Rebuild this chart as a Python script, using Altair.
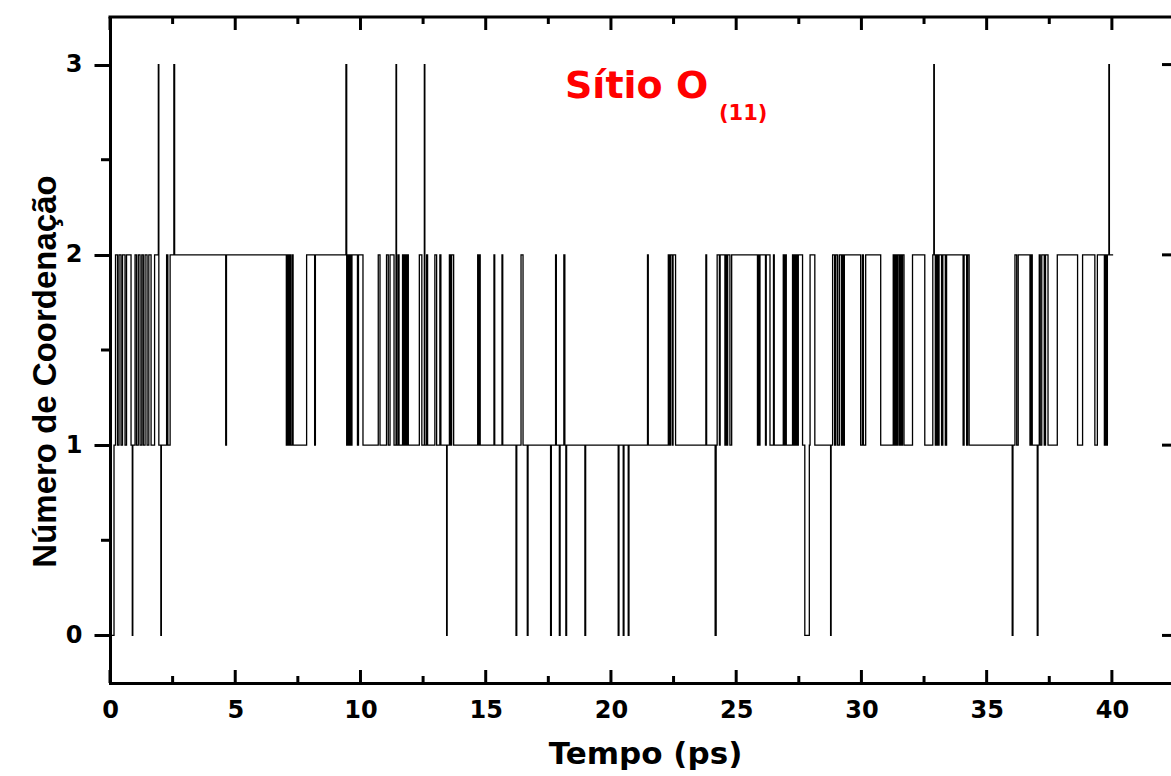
import altair as alt
import pandas as pd

# ---- data: step series (time in ps, coordination number) ----
times = [
    0.00, 0.16, 0.22, 0.30, 0.36, 0.44, 0.50, 0.60, 0.66, 0.84, 0.89, 0.91, 1.00, 1.06, 1.13, 1.20,
    1.27, 1.33, 1.40, 1.48, 1.55, 1.64, 1.78, 1.93, 1.95, 2.03, 2.05, 2.26, 2.31, 2.40, 2.55, 2.58,
    4.62, 4.65, 7.04, 7.08, 7.12, 7.17, 7.21, 7.27, 7.31, 7.85, 8.17, 8.20, 9.42, 9.45, 9.49, 9.53,
    9.57, 9.61, 9.66, 9.88, 9.92, 10.10, 10.71, 10.78, 11.04, 11.11, 11.18, 11.34, 11.42, 11.44,
    11.50, 11.54, 11.68, 11.72, 11.76, 11.81, 11.86, 11.91, 12.35, 12.45, 12.55, 12.57, 12.64,
    12.68, 12.97, 13.04, 13.17, 13.21, 13.44, 13.46, 13.55, 13.60, 13.64, 13.72, 14.68, 14.72,
    14.74, 14.78, 15.33, 15.36, 15.65, 15.68, 16.21, 16.24, 16.41, 16.49, 16.66, 16.69, 17.59,
    17.62, 17.79, 17.82, 17.94, 17.97, 18.12, 18.16, 18.20, 18.23, 18.96, 18.99, 20.29, 20.32,
    20.49, 20.52, 20.69, 20.72, 21.46, 21.49, 22.29, 22.33, 22.38, 22.45, 22.48, 22.58, 23.79,
    23.82, 24.16, 24.20, 24.24, 24.33, 24.36, 24.55, 24.58, 24.62, 24.66, 24.75, 24.82, 25.85,
    25.88, 25.92, 25.95, 26.17, 26.20, 26.35, 26.49, 26.52, 26.88, 26.92, 26.96, 27.00, 27.25,
    27.28, 27.32, 27.36, 27.40, 27.44, 27.48, 27.65, 27.74, 27.92, 27.95, 28.14, 28.77, 28.79,
    28.85, 28.93, 28.98, 29.05, 29.12, 29.20, 29.24, 29.28, 29.32, 29.97, 30.04, 30.08, 30.17,
    30.77, 31.27, 31.31, 31.35, 31.40, 31.44, 31.50, 31.55, 31.60, 31.64, 31.70, 32.04, 32.53,
    32.85, 32.89, 32.91, 32.95, 33.00, 33.05, 33.10, 33.20, 33.25, 33.35, 33.40, 34.06, 34.10,
    34.20, 34.24, 34.30, 36.02, 36.05, 36.13, 36.20, 36.26, 36.73, 36.78, 36.82, 37.02, 37.05,
    37.10, 37.14, 37.20, 37.30, 37.35, 37.45, 37.82, 38.63, 38.83, 39.32, 39.42, 39.70, 39.74,
    39.78, 39.82, 39.88, 39.90, 40.05,
]
values = [
    0, 1, 2, 1, 2, 1, 2, 1, 2, 1, 0, 1, 2, 1, 2, 1,
    2, 1, 2, 1, 2, 1, 2, 3, 1, 0, 1, 2, 1, 2, 3, 2,
    1, 2, 1, 2, 1, 2, 1, 2, 1, 2, 1, 2, 3, 1, 2, 1,
    2, 1, 2, 1, 2, 1, 2, 1, 2, 1, 2, 1, 3, 1,
    2, 1, 2, 1, 2, 1, 2, 1, 2, 1, 3, 1, 2,
    1, 2, 1, 2, 1, 0, 1, 2, 1, 2, 1, 2, 1,
    2, 1, 2, 1, 2, 1, 0, 1, 2, 1, 0, 1, 0,
    1, 2, 1, 0, 1, 2, 1, 0, 1, 0, 1, 0, 1,
    0, 1, 0, 1, 2, 1, 2, 1, 2, 1, 2, 1, 2,
    1, 0, 1, 2, 1, 2, 1, 2, 1, 2, 1, 2, 1,
    2, 1, 2, 1, 2, 1, 2, 1, 2, 1, 2, 1, 2,
    1, 2, 1, 2, 1, 2, 1, 0, 1, 2, 1, 0, 1,
    2, 1, 2, 1, 2, 1, 2, 1, 2, 1, 2, 1, 2,
    1, 2, 1, 2, 1, 2, 1, 2, 1, 2, 1, 2, 1,
    2, 3, 2, 1, 2, 1, 2, 1, 2, 1, 2, 1, 2,
    1, 2, 1, 0, 1, 2, 1, 2, 1, 2, 1, 0, 1,
    2, 1, 2, 1, 2, 1, 2, 1, 2, 1, 2, 1, 2,
    1, 2, 3, 2, 2,
]

x_major = [0, 5, 10, 15, 20, 25, 30, 35, 40]
x_minor = [2.5, 7.5, 12.5, 17.5, 22.5, 27.5, 32.5, 37.5]
y_major = [0, 1, 2, 3]
y_minor = [0.5, 1.5, 2.5]

title_main = "Sítio O"
title_sub = "(11)"
x_title = "Tempo (ps)"
y_title = "Número de Coordenação"

# ---- layout ----
W, H = 1061, 666
X_DOMAIN = [0, 42.36]
Y_DOMAIN = [-0.25, 3.25]
xs = alt.Scale(domain=X_DOMAIN, nice=False, zero=False)
ys = alt.Scale(domain=Y_DOMAIN, nice=False, zero=False)

x_axis = alt.Axis(
    values=x_major, format="d", ticks=False, grid=False,
    domainColor="black", domainWidth=3, domainCap="square",
    labelFont="DejaVu Sans", labelFontWeight="bold", labelFontSize=24,
    labelColor="black", labelPadding=15, labelFlush=False,
    title=x_title, titleFont="DejaVu Sans", titleFontWeight="bold",
    titleFontSize=31, titleColor="black", titleX=535, titleY=80,
    titleAlign="center", titleBaseline="alphabetic",
)
y_axis = alt.Axis(
    values=y_major, format="d", grid=False,
    tickSize=16, tickWidth=3, tickColor="black",
    domainColor="black", domainWidth=3, domainCap="square",
    labelFont="DejaVu Sans", labelFontWeight="bold", labelFontSize=24,
    labelColor="black", labelPadding=12, labelFlush=False,
    title=y_title, titleFont="Liberation Sans", titleFontWeight="bold",
    titleFontSize=33, titleColor="black", titleAngle=270,
    titleX=-55, titleY=354, titleAlign="center", titleBaseline="alphabetic",
)

df = pd.DataFrame({"t": times, "n": values})

line = alt.Chart(df).mark_line(
    interpolate="step-after", color="black", strokeWidth=1.3
).encode(
    x=alt.X("t:Q", scale=xs, axis=x_axis),
    y=alt.Y("n:Q", scale=ys, axis=y_axis),
)

xmaj = pd.DataFrame({"t": x_major})
xmin = pd.DataFrame({"t": x_minor})
ymaj = pd.DataFrame({"n": y_major})
ymin = pd.DataFrame({"n": y_minor})

def xtick(data, y0, y1):
    return alt.Chart(data).mark_rule(color="black", strokeWidth=3).encode(
        x=alt.X("t:Q", scale=xs, axis=x_axis), y=alt.value(y0), y2=alt.value(y1))

def ytick(data, x0, x1):
    return alt.Chart(data).mark_rule(color="black", strokeWidth=3).encode(
        y=alt.Y("n:Q", scale=ys, axis=y_axis), x=alt.value(x0), x2=alt.value(x1))

bottom_major = xtick(xmaj, H, H - 13)
bottom_minor = xtick(xmin, H, H - 7)
top_major = xtick(xmaj, 0, 13)
top_minor = xtick(xmin, 0, 7)
right_major = ytick(ymaj, W - 9, W)
left_minor = ytick(ymin, -9, 0)

top_border = alt.Chart(pd.DataFrame({"a": [0]})).mark_rule(
    color="black", strokeWidth=3, strokeCap="square"
).encode(x=alt.value(0), x2=alt.value(W), y=alt.value(0))

one = pd.DataFrame({"a": [0]})
title1 = alt.Chart(one).mark_text(
    text=title_main, color="#ff0000", font="DejaVu Sans", fontWeight="bold",
    fontSize=38, align="left", baseline="alphabetic"
).encode(x=alt.value(455), y=alt.value(81))
title2 = alt.Chart(one).mark_text(
    text=title_sub, color="#ff0000", font="DejaVu Sans", fontWeight="bold",
    fontSize=21, align="left", baseline="alphabetic"
).encode(x=alt.value(609), y=alt.value(103))

chart = alt.layer(
    line, bottom_major, bottom_minor, top_major, top_minor, right_major, left_minor,
    top_border, title1, title2
).properties(
    width=W, height=H,
    autosize=alt.AutoSizeParams(type="none"),
    padding={"left": 110, "top": 17, "right": 0, "bottom": 89},
).configure_view(stroke=None)

chart.save("out.html", embed_options={"renderer": "svg", "actions": False})
